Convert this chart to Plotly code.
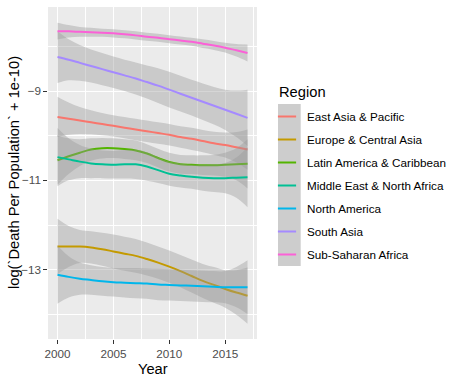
import plotly.graph_objects as go

years = list(range(2000, 2018))

regions = ["East Asia & Pacific", "Europe & Central Asia", "Latin America & Caribbean",
           "Middle East & North Africa", "North America", "South Asia", "Sub-Saharan Africa"]
colors = ["#F8766D", "#C49A00", "#53B400", "#00C094", "#00B6EB", "#A58AFF", "#FB61D7"]

fit_east_asia = [-9.58, -9.62, -9.66, -9.70, -9.74, -9.78, -9.82, -9.86, -9.90, -9.94, -9.98,
                 -10.03, -10.07, -10.12, -10.17, -10.21, -10.26, -10.31]
se_east_asia = [0.45, 0.36, 0.30, 0.27, 0.25, 0.24, 0.24, 0.24, 0.24, 0.24, 0.24, 0.24, 0.25,
                0.25, 0.26, 0.28, 0.34, 0.45]

fit_europe = [-12.48, -12.48, -12.48, -12.50, -12.54, -12.59, -12.64, -12.69, -12.76, -12.84,
              -12.93, -13.03, -13.14, -13.25, -13.34, -13.43, -13.51, -13.58]
se_europe = [0.62, 0.46, 0.37, 0.36, 0.37, 0.38, 0.38, 0.38, 0.37, 0.36, 0.36, 0.36, 0.37,
             0.38, 0.40, 0.42, 0.50, 0.63]

fit_latin = [-10.55, -10.46, -10.38, -10.31, -10.28, -10.28, -10.30, -10.33, -10.40, -10.50,
             -10.59, -10.64, -10.65, -10.66, -10.66, -10.65, -10.64, -10.63]
se_latin = [0.55, 0.40, 0.30, 0.25, 0.23, 0.22, 0.22, 0.22, 0.21, 0.21, 0.21, 0.21, 0.21,
            0.22, 0.23, 0.27, 0.36, 0.55]

fit_mena = [-10.48, -10.53, -10.58, -10.62, -10.64, -10.65, -10.64, -10.64, -10.69, -10.77,
            -10.85, -10.89, -10.92, -10.94, -10.95, -10.95, -10.94, -10.93]
se_mena = [0.65, 0.47, 0.37, 0.33, 0.31, 0.31, 0.32, 0.33, 0.32, 0.29, 0.27, 0.27, 0.27,
           0.29, 0.31, 0.34, 0.45, 0.67]

fit_north_america = [-13.11, -13.16, -13.20, -13.23, -13.26, -13.28, -13.29, -13.30, -13.31,
                     -13.33, -13.34, -13.35, -13.36, -13.37, -13.38, -13.39, -13.39, -13.39]
se_north_america = [0.65, 0.46, 0.36, 0.33, 0.32, 0.32, 0.33, 0.34, 0.34, 0.35, 0.35, 0.35,
                    0.35, 0.35, 0.35, 0.36, 0.45, 0.60]

fit_south_asia = [-8.24, -8.30, -8.37, -8.44, -8.51, -8.58, -8.65, -8.72, -8.80, -8.88, -8.97,
                  -9.06, -9.15, -9.24, -9.33, -9.42, -9.51, -9.60]
se_south_asia = [0.58, 0.46, 0.40, 0.37, 0.36, 0.35, 0.35, 0.36, 0.37, 0.39, 0.40, 0.40, 0.40,
                 0.41, 0.42, 0.45, 0.52, 0.63]

fit_ssa = [-7.66, -7.665, -7.675, -7.685, -7.695, -7.71, -7.73, -7.755, -7.785, -7.81, -7.84,
           -7.87, -7.90, -7.94, -7.98, -8.03, -8.09, -8.15]
se_ssa = [0.19, 0.14, 0.11, 0.10, 0.09, 0.09, 0.09, 0.09, 0.09, 0.09, 0.09, 0.09, 0.09, 0.10,
          0.10, 0.11, 0.14, 0.19]

fits = [fit_east_asia, fit_europe, fit_latin, fit_mena, fit_north_america, fit_south_asia, fit_ssa]
ses = [se_east_asia, se_europe, se_latin, se_mena, se_north_america, se_south_asia, se_ssa]

x_ticks = [2000, 2005, 2010, 2015]
y_ticks = [-13, -11, -9]
x_title = "Year"
y_title = "log(`Death Per Population` + 1e-10)"
legend_title = "Region"

W, H = 464, 384
L, R, T, B = 48, 207, 7, 45
pw, ph = W - L - R, H - T - B

fig = go.Figure()
band_fill = "rgba(153,153,153,0.4)"
for name, col, fit, se in zip(regions, colors, fits, ses):
    lower = [f - s for f, s in zip(fit, se)]
    upper = [f + s for f, s in zip(fit, se)]
    fig.add_trace(go.Scatter(x=years, y=lower, mode="lines", line=dict(width=0, shape="spline"),
                             showlegend=False, hoverinfo="skip"))
    fig.add_trace(go.Scatter(x=years, y=upper, mode="lines", line=dict(width=0, shape="spline"),
                             fill="tonexty", fillcolor=band_fill, showlegend=False, hoverinfo="skip"))
    fig.add_trace(go.Scatter(x=years, y=fit, mode="lines", line=dict(color=col, width=2, shape="spline"),
                             name=name, showlegend=False))

for i, (name, col) in enumerate(zip(regions, colors)):
    fig.add_trace(go.Scatter(x=[None], y=[None], mode="markers", name=name, legendgroup=str(i),
                             marker=dict(symbol="line-ew", size=13, color=col,
                                         line=dict(color=col, width=2))))

def px_x(p):
    return (p - L) / pw

def px_y(p):
    return 1 - (p - T) / ph

fig.add_shape(type="rect", xref="paper", yref="paper", x0=px_x(278), x1=px_x(300.7),
              y0=px_y(266), y1=px_y(104), fillcolor="#CDCDCD", line=dict(width=0), layer="below")

fig.add_annotation(text=x_title, xref="paper", yref="paper", x=0.5, y=px_y(369),
                   xanchor="center", yanchor="middle", showarrow=False,
                   font=dict(size=14.7, color="black"))
fig.add_annotation(text=y_title, xref="paper", yref="paper", x=px_x(14), y=0.5,
                   xanchor="center", yanchor="middle", showarrow=False, textangle=-90,
                   font=dict(size=14.7, color="black"))
fig.add_annotation(text=legend_title, xref="paper", yref="paper", x=px_x(277), y=px_y(91.5),
                   xanchor="left", yanchor="middle", showarrow=False,
                   font=dict(size=14.7, color="black"))

font = "Liberation Sans, Arial, sans-serif"
fig.update_layout(
    width=W, height=H,
    margin=dict(l=L, r=R, t=T, b=B, autoexpand=False),
    paper_bgcolor="white", plot_bgcolor="#EBEBEB",
    font=dict(family=font, color="black"),
    xaxis=dict(range=[1999.15, 2017.85], tickvals=x_ticks, showgrid=True, gridcolor="white",
               gridwidth=1.1, zeroline=False, ticks="outside", ticklen=3.7, tickwidth=1.1,
               tickcolor="#333333", tickfont=dict(size=11.7, color="#4D4D4D"),
               minor=dict(dtick=2.5, tick0=2000, showgrid=True, gridcolor="white", gridwidth=0.55),
               automargin=False),
    yaxis=dict(range=[-14.55, -7.12], tickvals=y_ticks, showgrid=True, gridcolor="white",
               gridwidth=1.1, zeroline=False, ticks="outside", ticklen=3.7, tickwidth=1.1,
               tickcolor="#333333", tickfont=dict(size=11.7, color="#4D4D4D"),
               minor=dict(dtick=1, tick0=-14, showgrid=True, gridcolor="white", gridwidth=0.55),
               automargin=False),
    legend=dict(x=px_x(267), xanchor="left", y=px_y(102), yanchor="top",
                bgcolor="rgba(0,0,0,0)", tracegroupgap=4, traceorder="grouped",
                font=dict(size=11.7, color="black")),
)

fig.write_html("out.html", config={"displayModeBar": False},
               post_script="document.body.style.margin='0';")
